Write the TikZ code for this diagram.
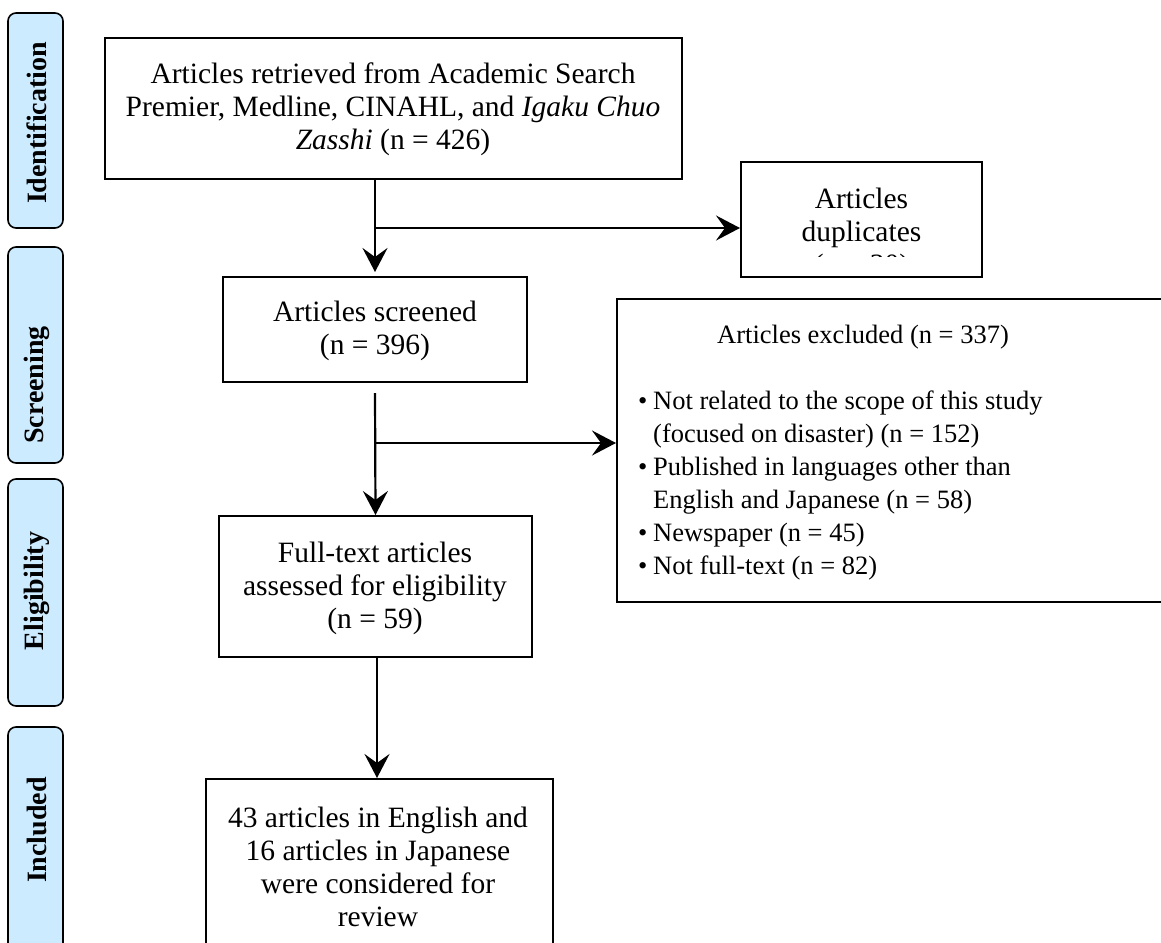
\documentclass[tikz,border=0pt]{standalone}
\usepackage{fontspec}
\setmainfont{Liberation Serif}
\usetikzlibrary{arrows.meta,calc}
\definecolor{phasefill}{HTML}{CCEBFF}
\begin{document}
\begin{tikzpicture}[x=1pt,y=-1pt,
  box/.style={draw,line width=2pt,inner sep=0pt},
  txt/.style={align=center,inner sep=0pt,font=\fontsize{29.5}{33}\selectfont},
  smalltxt/.style={align=center,inner sep=0pt,font=\fontsize{26.5}{33}\selectfont},
  phase/.style={draw,fill=phasefill,rounded corners=8pt,line width=1.6pt,inner sep=0pt,minimum width=55pt},
  phasetxt/.style={rotate=90,inner sep=0pt,font=\fontsize{28}{30}\selectfont\bfseries},
  flow/.style={line width=2.2pt,-{Stealth[length=24pt,width=25pt,inset=9pt]}},
  plain/.style={line width=2.2pt}]
\useasboundingbox (0,0) rectangle (1161,942);
\clip (0,0) rectangle (1161,942);
% phase labels
\node[phase,minimum height=215pt] (idlab) at (35.5,120.5) {};
\node[phase,minimum height=216pt] (scrlab) at (35.5,355) {};
\node[phase,minimum height=227pt] (elilab) at (35.5,592.5) {};
\node[phase,minimum height=233pt] (inclab) at (35.5,843.5) {};
\node[phasetxt] (idtxt) at (37,123) {Identification};
\node[phasetxt] (scrtxt) at (37,385) {Screening};
\node[phasetxt] (elitxt) at (37,591) {Eligibility};
\node[phasetxt] (inctxt) at (37,830) {Included};
% boxes
\node[box,minimum width=577pt,minimum height=141pt] (top) at (393.5,108.5) {};
\node[txt] (toptxt) at (393,109) {Articles retrieved from Academic Search\\Premier, Medline, CINAHL, and \textit{Igaku Chuo}\\\textit{Zasshi} (n = 426)};
\node[box,minimum width=304pt,minimum height=105pt] (scr) at (375,329.5) {};
\node[txt] (scrt) at (375,331) {Articles screened\\(n = 396)};
\node[box,minimum width=241pt,minimum height=115pt] (dup) at (861.5,219.5) {};
\begin{scope}
\clip (742,163) rectangle (981,256);
\node[txt] (dupt) at (861.5,234) {Articles\\duplicates\\(n = 30)};
\end{scope}
\node[box,minimum width=563pt,minimum height=303pt] (excl) at (898.5,450.5) {};
\node[smalltxt] (exclt) at (863,337) {Articles excluded (n = 337)};
\node[smalltxt,align=left,anchor=north west] (exclist) at (638,391) {\makebox[15pt][l]{•}Not related to the scope of this study\\
\hspace*{15pt}(focused on disaster) (n = 152)\\
\makebox[15pt][l]{•}Published in languages other than\\
\hspace*{15pt}English and Japanese (n = 58)\\
\makebox[15pt][l]{•}Newspaper (n = 45)\\
\makebox[15pt][l]{•}Not full-text (n = 82)};
\node[box,minimum width=313pt,minimum height=141pt] (eli) at (375.5,586.5) {};
\node[txt] (elit) at (375,588) {Full-text articles\\assessed for eligibility\\(n = 59)};
\node[box,minimum width=347pt,minimum height=181pt] (inc) at (379.5,869.5) {};
\node[txt] (inct) at (378,867) {43 articles in English and\\16 articles in Japanese\\were considered for\\review};
% connectors
\coordinate (b1) at (scr.north |- 0,228);
\coordinate (b2) at (scr.south |- 0,443);
\draw[flow] (scr.north |- top.south) -- ([yshift=4pt]scr.north);
\draw[flow] (b1) -- (b1 -| dup.west);
\draw[flow] ([yshift=-10pt]scr.south) -- (eli.north);
\draw[flow] (b2) -- (b2 -| excl.west);
\draw[flow] ([xshift=1.5pt]eli.south) -- ([xshift=1.5pt]eli.south |- inc.north);
\end{tikzpicture}
\end{document}
